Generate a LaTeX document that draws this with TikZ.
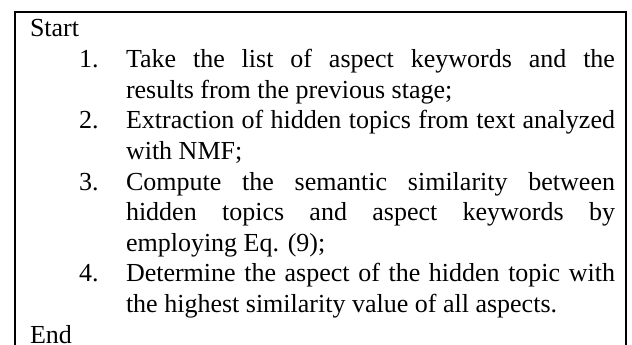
\documentclass[tikz,border=0pt]{standalone}
\usepackage{fontspec}
\setmainfont{Liberation Serif}

\begin{document}
\begin{tikzpicture}[
  x=1pt, y=1pt,
  every node/.style={inner sep=0pt,outer sep=0pt,anchor=base west,
    font={\fontsize{26}{30.6}\selectfont}},
  stepnum/.style={},
  steptext/.style={text width=489pt,align=justify,
    font={\fontsize{26}{30.6}\selectfont\tolerance=9999\hyphenpenalty=10000}},
  every path/.style={line width=2pt}
]
  \useasboundingbox (0,0) rectangle (632,-345);

  % frame, open at the bottom
  \coordinate (frameTL) at (15,-12.5);
  \coordinate (frameTR) at (626,-12.5);
  \draw (15,-360) -- (frameTL) -- (frameTR) -- (626,-360);

  \node (start) at (30,-37) {Start};

  \node[stepnum] (num1) at (79,-67.6) {1.};
  \node[steptext] (step1) at (126,-67.6)
    {Take the list of aspect keywords and the\linebreak
     results from the previous stage;};

  \node[stepnum] (num2) at (79,-128.8) {2.};
  \node[steptext] (step2) at (126,-128.8)
    {Extraction of hidden topics from text analyzed\linebreak
     with NMF;};

  \node[stepnum] (num3) at (79,-190) {3.};
  \node[steptext] (step3) at (126,-190)
    {Compute the semantic similarity between\linebreak
     hidden topics and aspect keywords by\linebreak
     employing Eq. (9);};

  \node[stepnum] (num4) at (79,-281.8) {4.};
  \node[steptext] (step4) at (126,-281.8)
    {Determine the aspect of the hidden topic with\linebreak
     the highest similarity value of all aspects.};

  \node (end) at (30,-343) {End};
\end{tikzpicture}
\end{document}
